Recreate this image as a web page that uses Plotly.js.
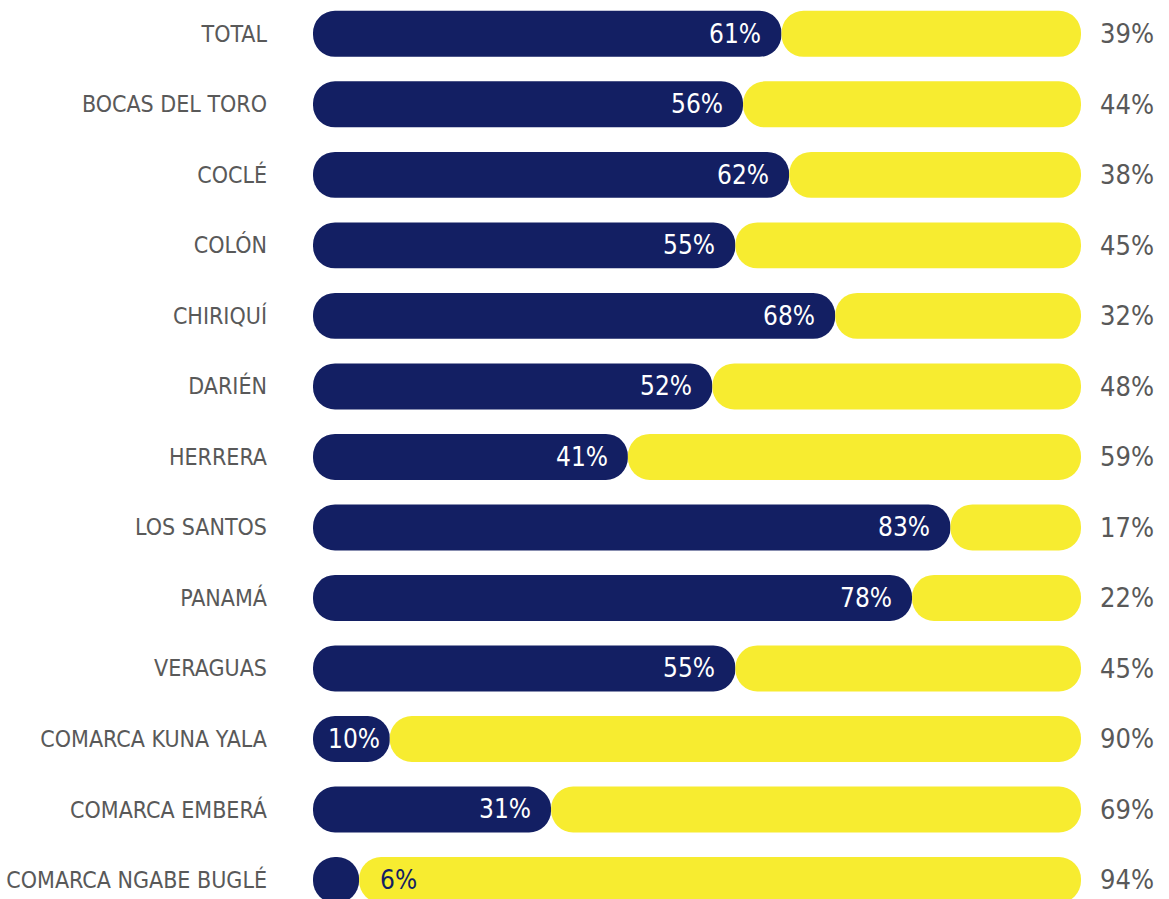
<!DOCTYPE html>
<html>
<head>
<meta charset="utf-8">
<script src="https://cdn.plot.ly/plotly-3.0.1.min.js"></script>
<style>
html,body{margin:0;padding:0;background:#fff;}
#chart{width:1169px;height:899px;}
</style>
</head>
<body>
<div id="chart"></div>
<script>
const categories = ["TOTAL","BOCAS DEL TORO","COCLÉ","COLÓN","CHIRIQUÍ","DARIÉN","HERRERA","LOS SANTOS","PANAMÁ","VERAGUAS","COMARCA KUNA YALA","COMARCA EMBERÁ","COMARCA NGABE BUGLÉ"];
const navyValues = [61,56,62,55,68,52,41,83,78,55,10,31,6];
const yellowValues = [39,44,38,45,32,48,59,17,22,45,90,69,94];

const NAVY = "#131f63";
const YELLOW = "#f7ec30";
const GRAY = "#595959";
const FONT = "'DejaVu Sans Condensed', 'DejaVu Sans', sans-serif";
const BARW = 0.652;

function pill(starts, lengths, color) {
  return {
    type: "bar", orientation: "h", y: categories, base: starts, x: lengths, width: BARW,
    marker: {color: color, cornerradius: "50%", line: {width: 0}},
    hoverinfo: "skip", showlegend: false
  };
}

const navyStarts = navyValues.map(() => 0);
const yellowStarts = navyValues.slice();

const traces = [
  pill(navyStarts, navyValues, NAVY),
  pill(yellowStarts, yellowValues, YELLOW)
];

const annotations = [];
categories.forEach((c, i) => {
  const v = navyValues[i];
  const inside = v >= 10;
  annotations.push({
    x: v, y: c, xref: "x", yref: "y",
    text: v + "%", showarrow: false,
    xanchor: inside ? "right" : "left",
    xshift: inside ? (v < 20 ? -8 : -18) : 19,
    font: {family: FONT, size: 26, color: inside ? "#ffffff" : NAVY}
  });
  annotations.push({
    x: 100, y: c, xref: "x", yref: "y",
    text: yellowValues[i] + "%", showarrow: false,
    xanchor: "left", xshift: 17,
    font: {family: FONT, size: 27, color: GRAY}
  });
});

const layout = {
  width: 1169, height: 899,
  margin: {l: 313, r: 88, t: 0, b: 0, pad: 0},
  paper_bgcolor: "#ffffff", plot_bgcolor: "#ffffff",
  barmode: "overlay",
  showlegend: false,
  xaxis: {range: [0, 100], visible: false, fixedrange: true},
  yaxis: {
    type: "category", categoryorder: "array", categoryarray: categories,
    range: [12.27, -0.48],
    showgrid: false, zeroline: false, showline: false, ticks: "",
    ticklabelstandoff: 45,
    tickfont: {family: FONT, size: 23, color: GRAY},
    fixedrange: true
  },
  annotations: annotations
};

Plotly.newPlot("chart", traces, layout, {displayModeBar: false, staticPlot: true});
</script>
</body>
</html>
